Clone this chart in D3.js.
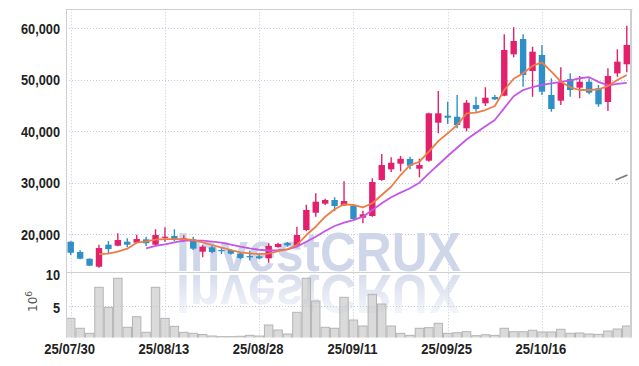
<!DOCTYPE html>
<html lang="en">
  <head>
    <meta charset="utf-8"/>
    <script src="https://d3js.org/d3.v7.min.js"></script>
    <title>Candlestick chart</title>
    <style>
      body { margin: 0; background: #fff; }
      svg { display: block; }
    </style>
  </head>
  <body>
    <div id="chart_div"><svg id="chart"></svg></div>
  </body>
</html>

<script>
  const width = 639;
  const height = 366;
  const pane = {left: 66, right: 631.5, top: 9.3, priceBottom: 272.3, volBottom: 337.5};

  // trading days
  const dates = [
    "25/07/30","25/07/31","25/08/01","25/08/04","25/08/05","25/08/06","25/08/07","25/08/08","25/08/11","25/08/12",
    "25/08/13","25/08/14","25/08/18","25/08/19","25/08/20","25/08/21","25/08/22","25/08/25","25/08/26","25/08/27",
    "25/08/28","25/08/29","25/09/01","25/09/02","25/09/03","25/09/04","25/09/05","25/09/08","25/09/09","25/09/10",
    "25/09/11","25/09/12","25/09/15","25/09/16","25/09/17","25/09/18","25/09/19","25/09/22","25/09/23","25/09/24",
    "25/09/25","25/09/26","25/09/29","25/09/30","25/10/01","25/10/02","25/10/10","25/10/13","25/10/14","25/10/15",
    "25/10/16","25/10/17","25/10/20","25/10/21","25/10/22","25/10/23","25/10/24","25/10/27","25/10/28","25/10/29"
  ];
  const open = [
    18560,16560,15260,13700,17980,17780,18560,18370,19020,17980,
    19340,19660,18760,19020,16620,17470,16950,16950,16240,15780,
    15720,15330,17530,18300,17730,20830,24190,25940,26660,25620,
    25490,23220,23550,30540,32620,33710,34620,32740,34290,41670,
    43030,42830,40580,45100,45440,46660,46910,54950,57920,51710,
    54820,47050,45940,50160,48470,49630,48350,45690,51260,53010
  ];
  const high = [
    18650,16890,15300,17980,18700,20190,19220,19920,19530,20960,
    21350,20960,19800,19530,17860,17860,17600,17150,16560,16820,
    16000,18250,18370,18500,21470,25740,27960,26920,27180,30290,
    25740,24580,30870,35590,34950,35200,35070,34670,43600,47820,
    45750,47050,46080,46720,48540,47050,58830,60190,58830,56430,
    56760,50290,52430,51260,50740,50290,49000,52230,55920,60500
  ];
  const low = [
    15980,15140,13850,13510,16300,17670,17470,18250,17730,17730,
    18560,18630,18500,16950,15530,16300,16170,16040,15140,14890,
    15140,14480,17400,17600,17600,20580,23420,25680,24460,25490,
    22840,22130,23420,30420,32100,32230,32620,31060,34100,39610,
    41410,40580,39990,43800,44910,46080,46800,54370,48660,46720,
    47050,43800,45100,46720,46400,47180,44780,43940,50610,51450
  ];
  const close = [
    16420,15260,13900,17330,17140,18890,17980,19080,18250,19860,
    19530,18890,19220,17210,17600,16560,16750,16240,15400,15530,
    15330,17730,18110,17860,19860,24720,26330,26660,25490,26460,
    22970,23880,30150,33450,33900,34670,33320,33450,43490,43490,
    42640,41220,45550,44330,46520,46210,55790,57530,50930,55460,
    47690,44330,49440,48020,49630,47500,45240,50740,53520,56760
  ];
  // volume, millions of shares
  const volume = [
    3.15,1.67,0.92,7.77,4.79,9.11,1.82,3.39,1.07,7.77,
    3.15,1.96,1.07,0.92,0.74,0.52,0.42,0.42,0.48,0.62,
    0.52,2.16,1.41,0.82,4.05,9.11,5.73,1.82,1.67,6.28,
    2.90,2.01,6.73,5.28,2.01,0.92,0.62,1.67,1.76,2.41,
    0.92,1.01,1.16,0.57,0.71,0.62,1.67,1.16,1.16,1.37,
    1.12,1.12,1.52,0.92,0.97,0.82,0.77,1.26,1.56,2.01
  ];
  const maShort = [
    null,null,null,16170,16230,16620,17200,18370,18630,18950,
    19080,19080,19080,18890,18440,17920,17400,16950,16500,16300,
    16150,16250,16750,17080,17920,19860,21470,23420,24850,25820,
    25690,25240,26020,27630,29240,31510,33450,34090,36040,38100,
    39610,41220,43490,43610,44130,44910,48020,50200,51260,52700,
    53400,51570,49630,48540,48020,48020,48150,48790,49960,50930
  ];
  const maLong = [
    null,null,null,null,null,null,null,null,17270,17730,
    18050,18440,18760,18760,18760,18560,18370,18000,17600,17250,
    17000,16850,16900,17080,17600,18560,19530,20640,21610,22250,
    22770,23420,24720,26020,27180,28090,28930,30020,31840,33500,
    35200,36800,38400,39700,41000,42200,44500,46800,48000,48600,
    49000,49300,49600,49900,50300,50500,49600,48900,49200,49400
  ];
  const tickDates = ["25/07/30","25/08/13","25/08/28","25/09/11","25/09/25","25/10/16"];
  const priceTicks = [20000, 30000, 40000, 50000, 60000];
  const volTicks = [5, 10];
  // short drawing stub at the right edge: [day index, price]
  const trendStub = [[57.8, 30540], [59.07, 31510]];

  const upColor = "#e3206c";
  const downColor = "#2e90c6";
  const gridColor = "#c3c9de";
  const frameColor = "#cfcfcf";
  const labelFont = "'Liberation Sans', Arial, sans-serif";

  const svg = d3.select("#chart")
    .attr("width", width)
    .attr("height", height);

  svg.append("rect").attr("width", width).attr("height", height).attr("fill", "#fff");

  const x = d3.scaleBand()
    .domain(dates)
    .range([pane.left, pane.right])
    .paddingInner(0)
    .paddingOuter(0);
  const bw = x.bandwidth();
  const cx = (d) => x(d) + bw / 2;
  const xIdx = d3.scaleLinear()
    .domain([0, dates.length - 1])
    .range([cx(dates[0]), cx(dates[dates.length - 1])]);

  const y = d3.scaleLinear()
    .domain([12620, 63690])
    .range([pane.priceBottom, pane.top]);

  const yVol = d3.scaleLinear()
    .domain([0, 10])
    .range([339.5, pane.priceBottom]);

  const defs = svg.append("defs");
  defs.append("clipPath").attr("id", "clipPrice")
    .append("rect")
    .attr("x", pane.left).attr("y", pane.top)
    .attr("width", pane.right - pane.left).attr("height", pane.priceBottom - pane.top);
  defs.append("clipPath").attr("id", "clipVol")
    .append("rect")
    .attr("x", pane.left).attr("y", pane.priceBottom)
    .attr("width", pane.right - pane.left).attr("height", pane.volBottom - pane.priceBottom);
  const fade = defs.append("linearGradient").attr("id", "fade")
    .attr("x1", 0).attr("y1", 0).attr("x2", 0).attr("y2", 1);
  fade.append("stop").attr("offset", "0%").attr("stop-color", "#fff").attr("stop-opacity", 0.75);
  fade.append("stop").attr("offset", "100%").attr("stop-color", "#fff").attr("stop-opacity", 0.15);
  defs.append("mask").attr("id", "fadeMask")
    .attr("maskUnits", "userSpaceOnUse")
    .attr("x", 0).attr("y", 273).attr("width", width).attr("height", 45)
    .append("rect")
    .attr("x", 0).attr("y", 273).attr("width", width).attr("height", 45)
    .attr("fill", "url(#fade)");

  // grid
  const grid = svg.append("g").attr("stroke", gridColor).attr("stroke-width", 1)
    .attr("stroke-dasharray", "1,2");
  grid.selectAll(".vgrid")
    .data(tickDates)
    .enter()
    .append("line")
      .attr("x1", (d) => Math.round(cx(d)) + 0.5)
      .attr("x2", (d) => Math.round(cx(d)) + 0.5)
      .attr("y1", pane.top)
      .attr("y2", pane.volBottom);
  grid.selectAll(".hgrid")
    .data(priceTicks)
    .enter()
    .append("line")
      .attr("x1", pane.left)
      .attr("x2", pane.right)
      .attr("y1", (d) => Math.round(y(d)) + 0.5)
      .attr("y2", (d) => Math.round(y(d)) + 0.5);
  grid.selectAll(".vol-grid")
    .data(volTicks.filter((d) => d < 10))
    .enter()
    .append("line")
      .attr("x1", pane.left)
      .attr("x2", pane.right)
      .attr("y1", (d) => Math.round(yVol(d)) + 0.5)
      .attr("y2", (d) => Math.round(yVol(d)) + 0.5);

  // watermark and its reflection
  const mark = svg.append("g");
  mark.append("text")
    .attr("x", 176)
    .attr("y", 271)
    .attr("font-family", labelFont)
    .attr("font-weight", "bold")
    .attr("font-size", 55)
    .attr("textLength", 285)
    .attr("lengthAdjust", "spacingAndGlyphs")
    .attr("fill", "#d0d6e9")
    .text("InvestCRUX");
  mark.append("g")
    .attr("mask", "url(#fadeMask)")
    .append("text")
    .attr("transform", "translate(0,546) scale(1,-1)")
    .attr("x", 176)
    .attr("y", 271)
    .attr("font-family", labelFont)
    .attr("font-weight", "bold")
    .attr("font-size", 55)
    .attr("textLength", 285)
    .attr("lengthAdjust", "spacingAndGlyphs")
    .attr("fill", "#c9d0e6")
    .text("InvestCRUX");

  // volume bars
  svg.append("g")
    .attr("clip-path", "url(#clipVol)")
    .selectAll("rect")
    .data(volume)
    .enter()
    .append("rect")
      .attr("x", (d, i) => x(dates[i]) + 0.5)
      .attr("y", (d) => yVol(d))
      .attr("width", bw - 1)
      .attr("height", (d) => yVol(0) - yVol(d))
      .attr("fill", "#c4c4c4")
      .attr("fill-opacity", 0.62)
      .attr("stroke", "#b4b4b4")
      .attr("stroke-width", 1);

  // candles
  const candles = svg.append("g").attr("clip-path", "url(#clipPrice)")
    .selectAll("g")
    .data(dates)
    .enter()
    .append("g")
      .attr("fill", (d, i) => close[i] >= open[i] ? upColor : downColor)
      .attr("stroke", (d, i) => close[i] >= open[i] ? upColor : downColor);
  candles.append("line")
    .attr("x1", (d) => cx(d))
    .attr("x2", (d) => cx(d))
    .attr("y1", (d, i) => y(high[i]))
    .attr("y2", (d, i) => y(low[i]))
    .attr("stroke-width", 1.4);
  candles.append("rect")
    .attr("x", (d) => cx(d) - bw * 0.34)
    .attr("width", bw * 0.68)
    .attr("y", (d, i) => y(Math.max(open[i], close[i])))
    .attr("height", (d, i) => Math.max(1.2, Math.abs(y(open[i]) - y(close[i]))))
    .attr("stroke", "none");

  // moving averages
  const maLine = (vals) => d3.line()
    .defined((d, i) => vals[i] !== null)
    .x((d) => cx(d))
    .y((d, i) => y(vals[i]))(dates);

  svg.append("path")
    .attr("d", maLine(maLong))
    .attr("fill", "none")
    .attr("stroke", "#c556e8")
    .attr("stroke-width", 1.8)
    .attr("stroke-linejoin", "round");
  svg.append("path")
    .attr("d", maLine(maShort))
    .attr("fill", "none")
    .attr("stroke", "#ee7d45")
    .attr("stroke-width", 1.8)
    .attr("stroke-linejoin", "round");

  svg.append("path")
    .attr("d", d3.line().x((d) => xIdx(d[0])).y((d) => y(d[1]))(trendStub))
    .attr("stroke", "#7c7c7c")
    .attr("stroke-width", 1.8)
    .attr("fill", "none");

  // frame
  const frame = svg.append("g").attr("stroke", frameColor).attr("stroke-width", 1);
  frame.append("line").attr("x1", pane.left).attr("x2", pane.right + 1)
    .attr("y1", 9.5).attr("y2", 9.5);
  frame.append("line").attr("x1", 66.5).attr("x2", 66.5)
    .attr("y1", 9.5).attr("y2", pane.volBottom);
  frame.append("line").attr("x1", 631).attr("x2", 631)
    .attr("y1", 9.5).attr("y2", pane.volBottom)
    .attr("stroke-width", 2);
  frame.append("line").attr("x1", pane.left).attr("x2", pane.right)
    .attr("y1", 272.5).attr("y2", 272.5);

  // labels, narrowed to look like a condensed face
  const condense = (sel, k) => sel.each(function() {
    const w = this.getComputedTextLength();
    d3.select(this).attr("textLength", w * k).attr("lengthAdjust", "spacingAndGlyphs");
  });

  const labels = svg.append("g")
    .attr("font-family", labelFont)
    .attr("font-weight", "bold")
    .attr("font-size", 15)
    .attr("fill", "#222");

  labels.selectAll(".ylab")
    .data(priceTicks)
    .enter()
    .append("text")
      .attr("x", 60)
      .attr("y", (d) => y(d) + 5.5)
      .attr("text-anchor", "end")
      .text((d) => d3.format(",")(d))
      .call(condense, 0.85);

  labels.selectAll(".vlab")
    .data(volTicks)
    .enter()
    .append("text")
      .attr("x", 60)
      .attr("y", (d) => yVol(d) + 7.5)
      .attr("text-anchor", "end")
      .text((d) => d)
      .call(condense, 0.85);

  labels.selectAll(".xlab")
    .data(tickDates)
    .enter()
    .append("text")
      .attr("x", (d) => cx(d) - 1)
      .attr("y", 354)
      .attr("text-anchor", "middle")
      .text((d) => d)
      .call(condense, 0.87);

  const unit = svg.append("text")
    .attr("transform", "translate(37,312) rotate(-90)")
    .attr("font-family", "'DejaVu Sans', sans-serif")
    .attr("font-size", 12)
    .attr("fill", "#555");
  unit.append("tspan").text("10");
  unit.append("tspan").attr("dy", -5).attr("font-size", 9).text("6");
</script>
